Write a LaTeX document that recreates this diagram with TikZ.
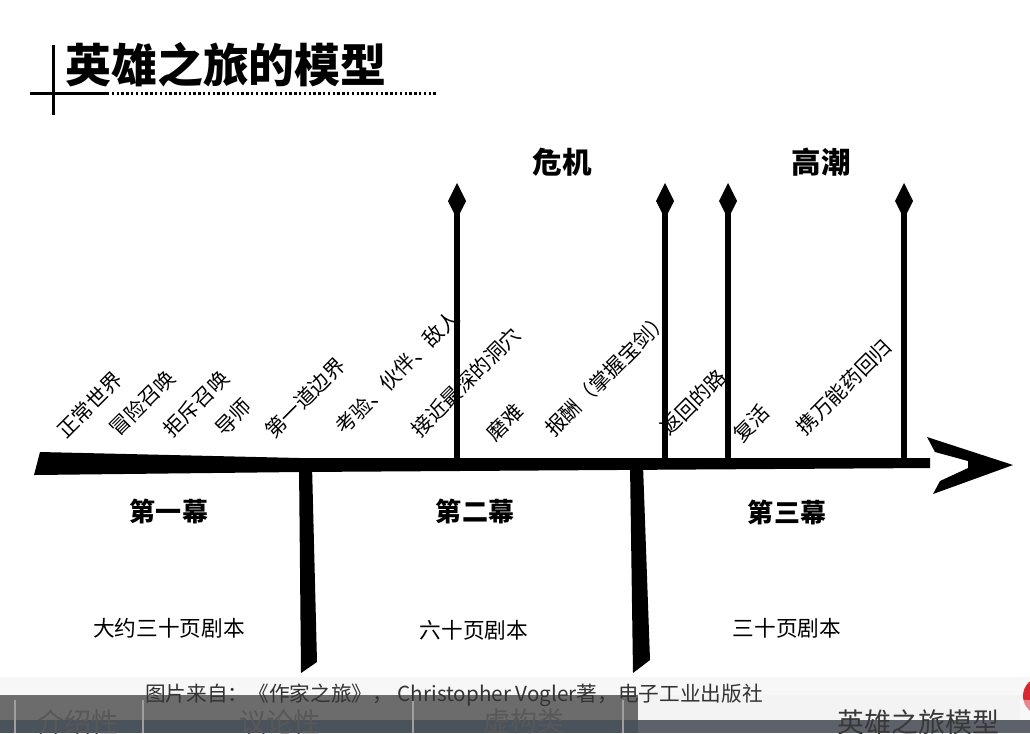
\documentclass[tikz,border=0pt]{standalone}
\usepackage{fontspec}
\setmainfont{Noto Sans CJK SC}
\usetikzlibrary{arrows.meta}

\definecolor{bandmid}{HTML}{6C6C6C}
\definecolor{banddark}{HTML}{4A525C}
\definecolor{bandright}{HTML}{5D626A}
\definecolor{bandlight}{HTML}{F3F3F3}
\definecolor{stripe}{HTML}{F7F7F7}
\definecolor{tabtext}{HTML}{585858}
\definecolor{logored}{HTML}{D9262E}

\begin{document}
\begin{tikzpicture}[x=0.025cm, y=-0.025cm, line join=round,
    evt/.style={rotate=45, inner sep=0pt, font=\fontsize{14.6pt}{15pt}\selectfont},
    act/.style={inner sep=0pt, font=\fontsize{18.5pt}{19pt}\selectfont\bfseries},
    pages/.style={inner sep=0pt, font=\fontsize{15.4pt}{16pt}\selectfont},
    peak/.style={inner sep=0pt, font=\fontsize{21pt}{22pt}\selectfont\bfseries},
    uparrow/.style={line width=0.15cm, -{Kite[length=0.9cm, width=0.45cm, inset=0.45cm]}},
    tab/.style={anchor=north, inner sep=0pt, text=tabtext, font=\fontsize{19.2pt}{20pt}\selectfont}]

  % --- page ---
  \fill[white] (0,0) rectangle (1030,733);
  \clip (0,0) rectangle (1030,733);

  % --- title ---
  \node[inner sep=0pt, font=\fontsize{32.7pt}{33pt}\selectfont\bfseries] (title) at (226,65) {英雄之旅的模型};
  \draw[line width=0.075cm] (53,45) -- (53,115);
  \draw[line width=0.075cm] (30,93) -- (107,93);
  \draw[line width=0.075cm, dash pattern=on 0.06cm off 0.06cm] (107,93) -- (438,93);

  % --- time line ---
  \coordinate (start) at (35,463);
  \coordinate (end) at (1013,465);
  \fill (40,452) -- (300,458) -- (930,458) -- (930,468) -- (300,472) -- (34,475) -- cycle;
  \fill (end) -- (927,437) -- (935,452) -- (968,461) -- (968,468) -- (940,481) -- (933,494) -- cycle;

  % --- act boundaries ---
  \fill (299,465) -- (312,465) -- (317,662) -- (301,673) -- cycle;
  \fill (630,465) -- (643,465) -- (650,660) -- (633,673) -- cycle;

  % --- turning points ---
  \foreach \n/\x in {crisis/457, reward/665, road/728, climax/904} {
    \coordinate (\n base) at (\x,463);
    \coordinate (\n top) at (\x,183);
    \draw[uparrow] (\n base) -- (\n top);
  }
  \node[peak] (crisis) at (562,162) {危机};
  \node[peak] (climax) at (821,162) {高潮};

  % --- stages ---
  \node[evt] (s1) at (90,405) {正常世界};
  \node[evt] (s2) at (142,403) {冒险召唤};
  \node[evt] (s3) at (196,404) {拒斥召唤};
  \node[evt] (s4) at (233,417) {导师};
  \node[evt] (s5) at (305,398) {第一道边界};
  \node[evt] (s6) at (397,372) {考验、伙伴、敌人};
  \node[evt] (s7) at (466,382) {接近最深的洞穴};
  \node[evt] (s8) at (505,422) {磨难};
  \node[evt] (s9) at (607,374) {报酬（掌握宝剑）};
  \node[evt] (s10) at (693,402) {返回的路};
  \node[evt] (s11) at (751,423) {复活};
  \node[evt] (s12) at (844,387) {携万能药回归};

  % --- acts ---
  \node[act] (act1) at (169,511) {第一幕};
  \node[act] (act2) at (475,511) {第二幕};
  \node[act] (act3) at (787,512) {第三幕};
  \node[pages] (len1) at (169,628) {大约三十页剧本};
  \node[pages] (len2) at (474,630) {六十页剧本};
  \node[pages] (len3) at (787,628) {三十页剧本};

  % --- bottom bar ---
  \fill[stripe] (0,677) rectangle (1030,695);
  \fill[bandmid] (0,695) rectangle (638,720);
  \fill[banddark] (0,720) rectangle (638,733);
  \fill[bandlight] (638,695) rectangle (1030,720);
  \fill[bandright] (638,720) rectangle (1030,733);
  \foreach \x in {15,143,413,623}
    \draw[gray!75, line width=0.04cm] (\x,700) -- (\x,733);
  \fill[logored] (1042,696) circle (19);
  \fill[white, opacity=0.45] (1020,700) rectangle (1065,720);
  \node[tab] (tab1) at (78,709) {介绍性};
  \node[tab] (tab2) at (280,709) {议论性};
  \node[tab] (tab3) at (524,709) {虚构类};
  \node[tab, text=black!78] (tab4) at (918,709) {英雄之旅模型};
  \node[inner sep=0pt, text=black!80, font=\fontsize{14.7pt}{15pt}\selectfont] (source) at (454,695)
      {图片来自：《作家之旅》， Christopher Vogler著，电子工业出版社};

\end{tikzpicture}
\end{document}
